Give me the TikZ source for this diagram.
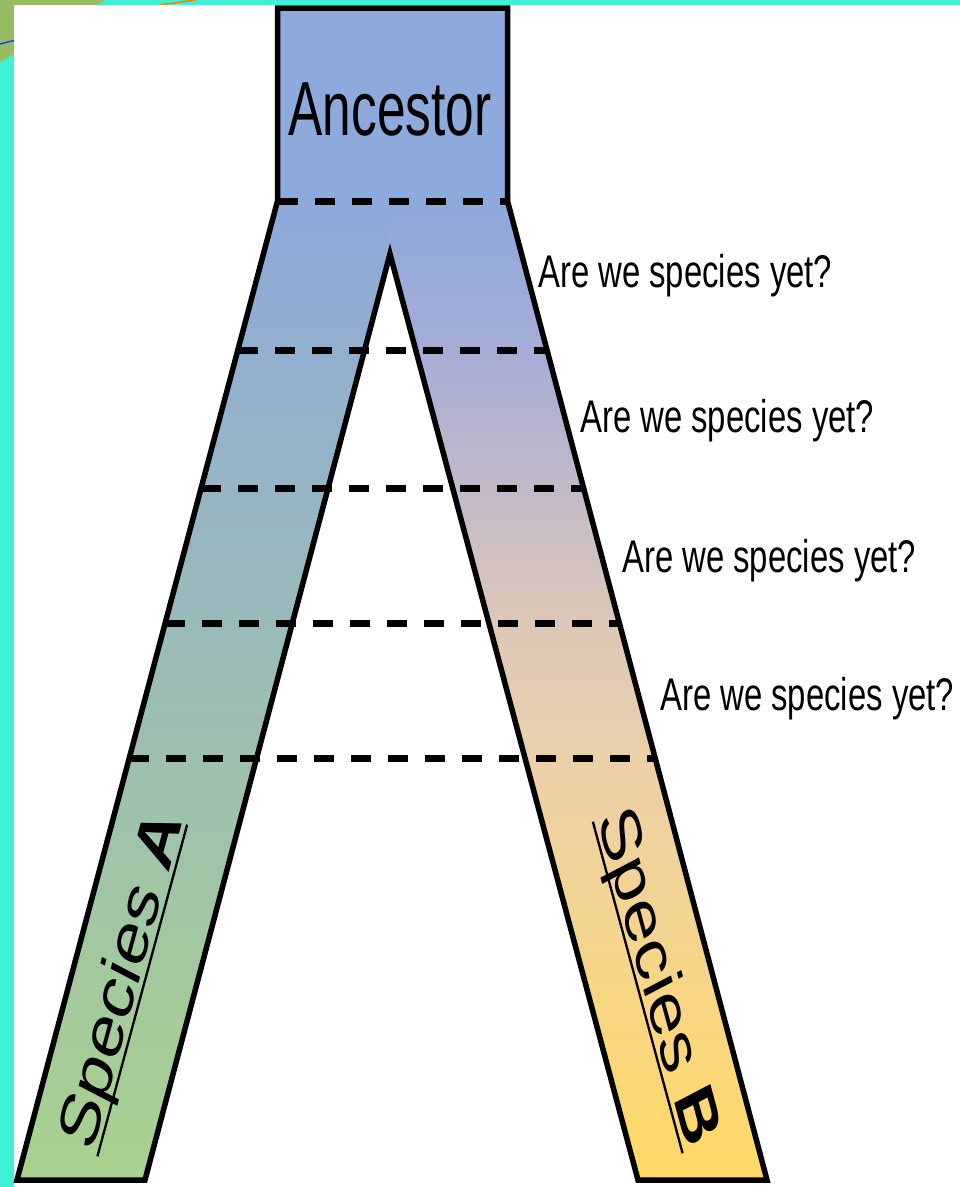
\documentclass[tikz,border=0pt]{standalone}
\usepackage{fontspec}
\setmainfont{Liberation Sans}
\usepackage{graphicx}
\usetikzlibrary{calc}
\definecolor{turq}{RGB}{62,240,212}
\definecolor{deco}{RGB}{152,188,98}
\definecolor{anccol}{RGB}{142,169,219}
\definecolor{lbot}{RGB}{169,209,142}
\definecolor{rA}{RGB}{255,217,102}
\definecolor{rB}{RGB}{246,213,140}
\definecolor{rC}{RGB}{235,208,170}
\definecolor{rD}{RGB}{220,200,185}
\definecolor{rE}{RGB}{195,185,200}
\definecolor{rF}{RGB}{165,173,214}
\pgfdeclareverticalshading{rightleg}{100bp}{color(0bp)=(rA); color(25bp)=(rA); color(36.75bp)=(rB); color(46.45bp)=(rC); color(53.6bp)=(rD); color(60.24bp)=(rE); color(67.39bp)=(rF); color(75bp)=(anccol); color(100bp)=(anccol)}
\newsavebox{\ulbox}
\newcommand{\ulspecies}[1]{\sbox{\ulbox}{#1}\rlap{\rule[-0.11em]{\wd\ulbox}{0.04em}}\usebox{\ulbox}}
\begin{document}
\begin{tikzpicture}[x=1bp,y=1bp,
  outline/.style={line width=5.5bp, line join=miter},
  sepline/.style={line width=7bp, dash pattern=on 20bp off 17bp},
  question/.style={anchor=base west, inner sep=0pt, font=\fontsize{46}{50}\selectfont}]
\useasboundingbox (0,0) rectangle (960,-1187);
% slide background
\fill[turq] (0,0) rectangle (960,-1187);
\fill[deco] (0,0) -- (105,0) -- (0,-62) -- cycle;
\draw[blue!70!cyan, line width=1.5bp] (0,-44) -- (16,-40);
\draw[orange, line width=1.5bp] (160,-5) -- (195,0);
\fill[white] (14,-5) rectangle (960,-1187);
% outline points
\coordinate (TL) at (277.5,-8);
\coordinate (TR) at (507.5,-8);
\coordinate (NR) at (507.5,-201);
\coordinate (BRo) at (767,-1180);
\coordinate (BRi) at (638,-1180);
\coordinate (apex) at (390,-254);
\coordinate (BLi) at (145,-1180);
\coordinate (BLo) at (17,-1180);
\coordinate (NL) at (277.5,-201);
% fills
\begin{scope}
\clip (TL) -- (TR) -- (NR) -- (BRo) -- (BRi) -- (apex) -- (BLi) -- (BLo) -- (NL) -- cycle;
\fill[anccol] (200,0) rectangle (600,-202);
\shade[top color=anccol, bottom color=lbot] (0,-201) rectangle (391,-1180);
\shade[shading=rightleg] (390,-201) rectangle (800,-1180);
\end{scope}
% dashed levels
\draw[sepline] (NL) -- (NR);
\foreach \t in {0.1532,0.2932,0.4311,0.5690}{
  \draw[sepline] ($(NL)!\t!(BLo)$) -- ($(NR)!\t!(BRo)$);
}
% outline
\draw[outline] (TL) -- (TR) -- (NR) -- (BRo) -- (BRi) -- (apex) -- (BLi) -- (BLo) -- (NL) -- cycle;
% texts
\node[inner sep=0pt, anchor=base] (ancestor) at (390,-135) {\scalebox{0.67}[1]{\fontsize{77}{80}\selectfont Ancestor}};
\node[question] (q1) at (538,-287) {\scalebox{0.717}[1]{Are we species yet?}};
\node[question] (q2) at (580,-432) {\scalebox{0.717}[1]{Are we species yet?}};
\node[question] (q3) at (622,-572) {\scalebox{0.717}[1]{Are we species yet?}};
\node[question] (q4) at (660,-710) {\scalebox{0.717}[1]{Are we species yet?}};
\node[inner sep=0pt] (spA) at (124,-981) {\scalebox{0.72}[1]{\rotatebox{69.4}{\fontsize{78}{80}\selectfont\ulspecies{Species \textbf{A}}}}};
\node[inner sep=0pt] (spB) at (656,-978) {\scalebox{0.72}[1]{\rotatebox{-69.4}{\fontsize{78}{80}\selectfont\ulspecies{Species \textbf{B}}}}};
\end{tikzpicture}
\end{document}
